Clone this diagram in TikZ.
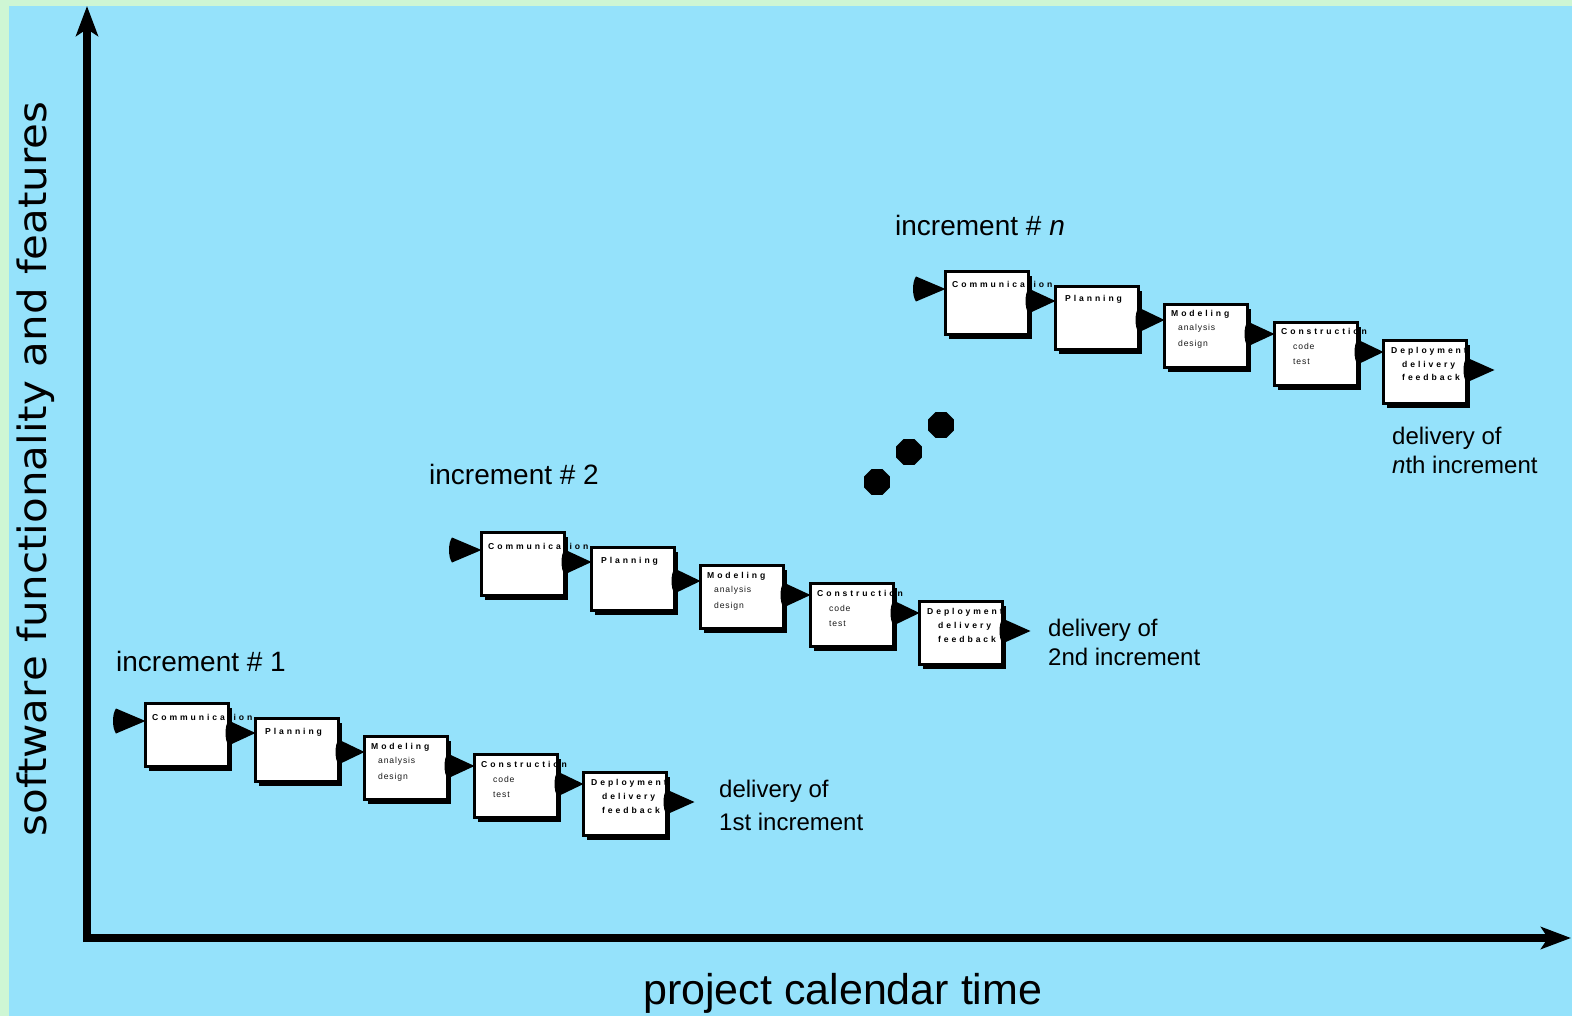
\documentclass[tikz,border=0pt]{standalone}
\usepackage{graphicx}
\usepackage{fontspec}
\setmainfont{Liberation Sans}
\newfontfamily\titlefont[LetterSpace=34]{Liberation Sans}
\newfontfamily\subfont[LetterSpace=10]{Liberation Sans}
\newfontfamily\axisfont{DejaVu Sans}
\usetikzlibrary{calc,shadows,shapes.geometric,arrows.meta}
\definecolor{bgblue}{RGB}{149,226,251}
\definecolor{bggreen}{RGB}{206,246,212}

\tikzset{
 stagebox/.style={draw=black, line width=3pt, fill=white, minimum width=83pt, minimum height=63pt,
   anchor=north west, inner sep=0pt, outer sep=0pt,
   drop shadow={shadow xshift=3.5pt, shadow yshift=-4.5pt, opacity=1, fill=black}},
 stagetitle/.style={anchor=base west, inner sep=0pt, font=\titlefont\bfseries\fontsize{8.6}{9}\selectfont},
 stagesub/.style={anchor=base west, inner sep=0pt, font=\subfont\fontsize{8.6}{9}\selectfont, text=black!90},
 biglabel/.style={anchor=base west, inner sep=0pt, font=\fontsize{28}{30}\selectfont},
 delivlabel/.style={anchor=base west, inner sep=0pt, font=\fontsize{24}{26}\selectfont},
 axisline/.style={line width=8pt, -{Stealth[length=30pt,width=22pt,inset=7pt]}},
 ellipsisdot/.style={regular polygon, regular polygon sides=8, fill=black, minimum size=28pt, inner sep=0pt},
}

\newcommand\wedgefill[2]{%
 \fill ($(#1)+(0,-12.5)$) -- (#2) -- ($(#1)+(0,12.5)$) .. controls ($(#1)+(-4,7)$) and ($(#1)+(-4,-7)$) .. cycle;}

\newcommand\incgroup[3]{%
\begin{scope}[shift={(#2,#3)}]
 \node[stagebox] (com#1) at (1.5,1.5) {};
 \node[stagebox] (pla#1) at (111.5,16.5) {};
 \node[stagebox] (mod#1) at (220.5,34.5) {};
 \node[stagebox] (con#1) at (330.5,52.5) {};
 \node[stagebox] (dep#1) at (439.5,70.5) {};
 \node[stagetitle] (comt#1) at (8,18) {Communication};
 \node[stagetitle] (plat#1) at (121,32) {Planning};
 \node[stagetitle] (modt#1) at (227,47) {Modeling};
 \node[stagesub] (moda#1) at (234,61) {analysis};
 \node[stagesub] (modb#1) at (234,77) {design};
 \node[stagetitle] (cont#1) at (337,65) {Construction};
 \node[stagesub] (cona#1) at (349,80) {code};
 \node[stagesub] (conb#1) at (349,95) {test};
 \node[stagetitle] (dept#1) at (447,83) {Deployment};
 \node[stagetitle] (depa#1) at (458,97) {delivery};
 \node[stagetitle] (depb#1) at (458,111) {feedback};
 % connectors
 \coordinate (tcom#1) at (com#1.west |- 0,19);
 \coordinate (bcom#1) at (-28,19);
 \coordinate (tpla#1) at (pla#1.west |- 0,31);
 \coordinate (bpla#1) at (com#1.east |- tpla#1);
 \coordinate (tmod#1) at (mod#1.west |- 0,50);
 \coordinate (bmod#1) at (pla#1.east |- tmod#1);
 \coordinate (tcon#1) at (con#1.west |- 0,64);
 \coordinate (bcon#1) at (mod#1.east |- tcon#1);
 \coordinate (tdep#1) at (dep#1.west |- 0,82);
 \coordinate (bdep#1) at (con#1.east |- tdep#1);
 \coordinate (bout#1) at (dep#1.east |- 0,100);
 \coordinate (tout#1) at ($(bout#1)+(28,0)$);
 \wedgefill{bcom#1}{tcom#1}
 \wedgefill{bpla#1}{tpla#1}
 \wedgefill{bmod#1}{tmod#1}
 \wedgefill{bcon#1}{tcon#1}
 \wedgefill{bdep#1}{tdep#1}
 \wedgefill{bout#1}{tout#1}
\end{scope}}

\begin{document}
\begin{tikzpicture}[x=1pt,y=-1pt]
\useasboundingbox (0,0) rectangle (1572,1016);
\fill[bggreen] (0,0) rectangle (1572,1016);
\fill[bgblue] (9,6) rectangle (1572,1016);

% axes
\coordinate (yaxbot) at (87,942);
\coordinate (yaxtop) at (87,6);
\coordinate (xaxleft) at (83,938);
\coordinate (xaxright) at (1571,938);
\draw[axisline] (yaxbot) -- (yaxtop);
\draw[axisline] (xaxleft) -- (xaxright);

\node[rotate=90, anchor=base, inner sep=0pt, font=\axisfont\fontsize{39}{40}\selectfont] (ylab) at (46,469)
  {\scalebox{1.077}[1]{software functionality and features}};
\node[anchor=base west, inner sep=0pt, font=\fontsize{43}{45}\selectfont] (xlab) at (643,1004) {project calendar time};

\incgroup{a}{144}{702}
\incgroup{b}{480}{531}
\incgroup{n}{944}{270}

\node[biglabel] (inc1) at (116,671) {increment \# 1};
\node[biglabel] (inc2) at (429,484) {increment \# 2};
\node[biglabel] (incn) at (895,236) {increment \# \textit{n}};

\node[delivlabel] (d1a) at (719,797) {delivery of};
\node[delivlabel] (d1b) at (719,830) {1st increment};
\node[delivlabel] (d2a) at (1048,636) {delivery of};
\node[delivlabel] (d2b) at (1048,665) {2nd increment};
\node[delivlabel] (dna) at (1392,444) {delivery of};
\node[delivlabel] (dnb) at (1392,473) {\textit{n}th increment};

\node[ellipsisdot] (dot1) at (877,482) {};
\node[ellipsisdot] (dot2) at (909,452) {};
\node[ellipsisdot] (dot3) at (941,425) {};
\end{tikzpicture}
\end{document}
